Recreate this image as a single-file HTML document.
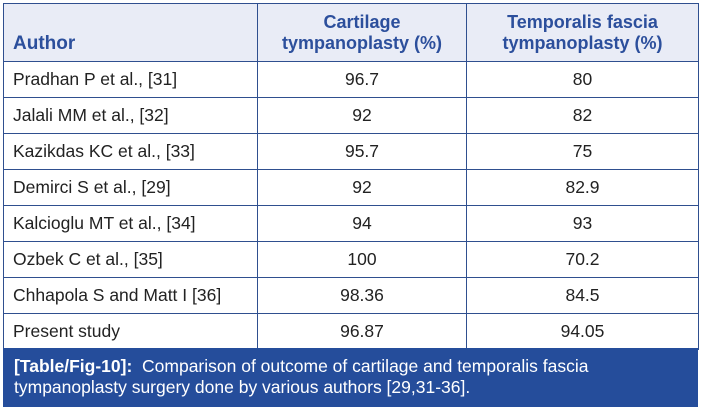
<!DOCTYPE html>
<html><head><style>
body{margin:0;width:701px;height:408px;background:#fff;overflow:hidden;font-family:"Liberation Sans",sans-serif;}
.wrap{position:absolute;left:3px;top:3px;width:695px;}
table{border-collapse:collapse;width:695px;table-layout:fixed;}
td,th{border:1.5px solid #2f4f8f;font-size:17.5px;color:#222;padding:0 9px;height:35px;}
th{background:#e9ecf6;color:#2c4f9c;font-weight:bold;font-size:18px;height:50px;vertical-align:bottom;padding-bottom:7px;line-height:21px;}
th.a{text-align:left;font-size:19px;}
td.c{text-align:center;}
.cap{position:absolute;left:3px;top:348px;width:684px;height:51px;background:#254d9b;color:#fff;font-size:17.5px;line-height:21px;padding:8px 0 0 11px;}
</style></head><body>
<div class="wrap"><table>
<colgroup><col style="width:254px"><col style="width:209px"><col style="width:232px"></colgroup>
<tr><th class="a">Author</th><th>Cartilage<br>tympanoplasty (%)</th><th>Temporalis fascia<br>tympanoplasty (%)</th></tr>
<tr><td>Pradhan P et al., [31]</td><td class="c">96.7</td><td class="c">80</td></tr>
<tr><td>Jalali MM et al., [32]</td><td class="c">92</td><td class="c">82</td></tr>
<tr><td>Kazikdas KC et al., [33]</td><td class="c">95.7</td><td class="c">75</td></tr>
<tr><td>Demirci S et al., [29]</td><td class="c">92</td><td class="c">82.9</td></tr>
<tr><td>Kalcioglu MT et al., [34]</td><td class="c">94</td><td class="c">93</td></tr>
<tr><td>Ozbek C et al., [35]</td><td class="c">100</td><td class="c">70.2</td></tr>
<tr><td>Chhapola S and Matt I [36]</td><td class="c">98.36</td><td class="c">84.5</td></tr>
<tr><td>Present study</td><td class="c">96.87</td><td class="c">94.05</td></tr>
</table></div>
<div class="cap"><b>[Table/Fig-10]:</b>&nbsp; Comparison of outcome of cartilage and temporalis fascia<br>tympanoplasty surgery done by various authors [29,31-36].</div>
</body></html>
